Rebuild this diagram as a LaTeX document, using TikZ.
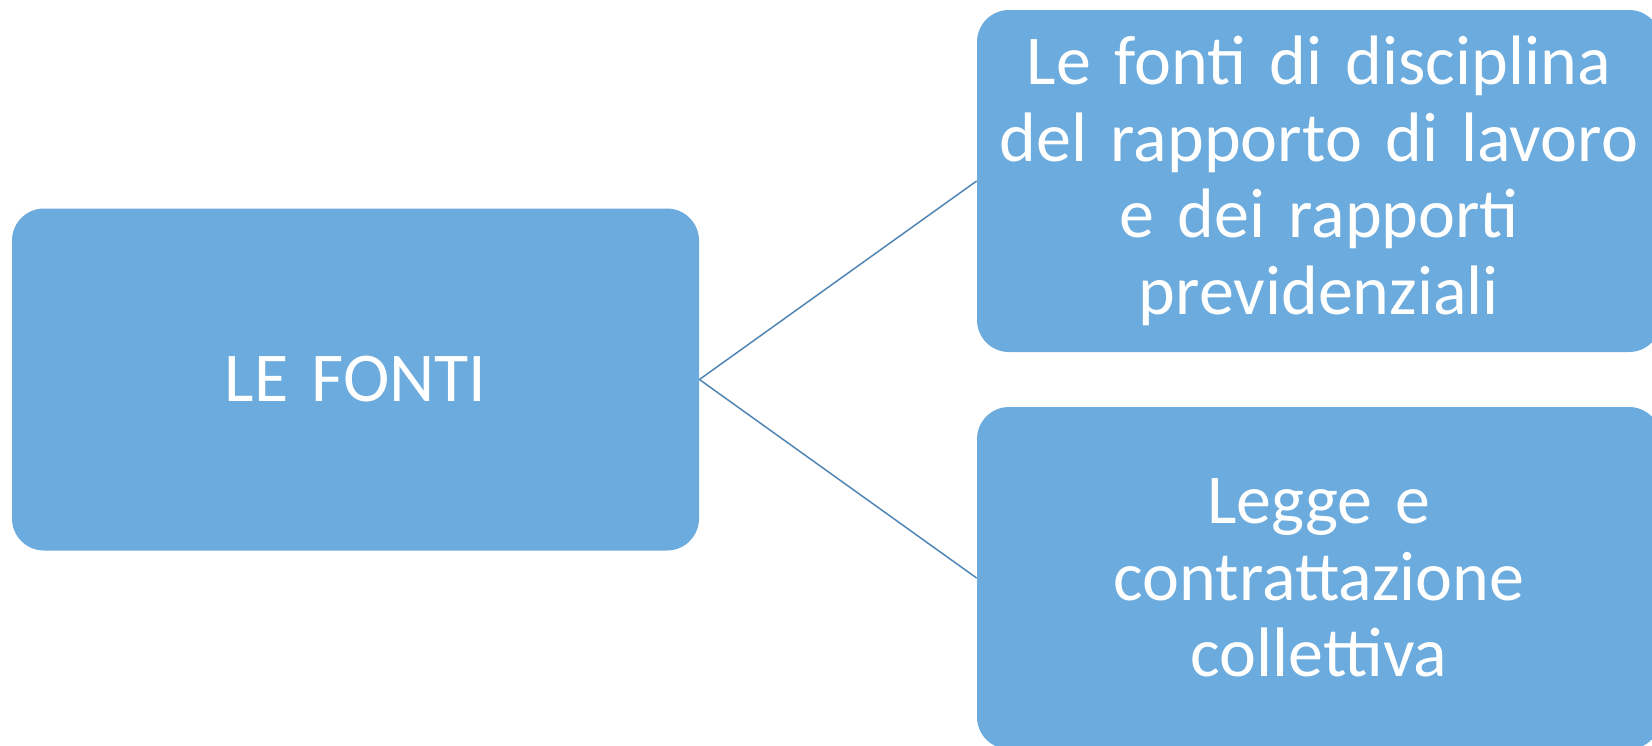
\documentclass[tikz,border=0pt]{standalone}
\usepackage{fontspec}
\setmainfont{Carlito}
\definecolor{boxblue}{RGB}{108,171,221}
\definecolor{lineblue}{RGB}{80,134,182}
\tikzset{
  box/.style={fill=boxblue, rounded corners=16pt, text=white, align=center,
    inner sep=0pt, minimum height=171pt, font=\fontsize{35}{38.25}\selectfont},
  link/.style={draw=lineblue, line width=0.75pt}
}

\begin{document}
\begin{tikzpicture}[x=0.5pt, y=-0.5pt]
      \useasboundingbox (0, 0) rectangle (1652, 745);
      \node[box, minimum width=343.5pt, text width=330pt] (fonti) at (355.5, 379.5) {LE FONTI};
      \node[box, minimum width=342pt, text width=335pt] (disc) at (1319, 181) {Le fonti di disciplina\\del rapporto di lavoro\\e dei rapporti\\previdenziali};
      \node[box, minimum width=342pt, text width=335pt] (legge) at (1319, 578) {Legge e\\contrattazione\\collettiva};
      \draw[link] (fonti.east) -- (disc.west);
      \draw[link] (fonti.east) -- (legge.west);
    \end{tikzpicture}
\end{document}
